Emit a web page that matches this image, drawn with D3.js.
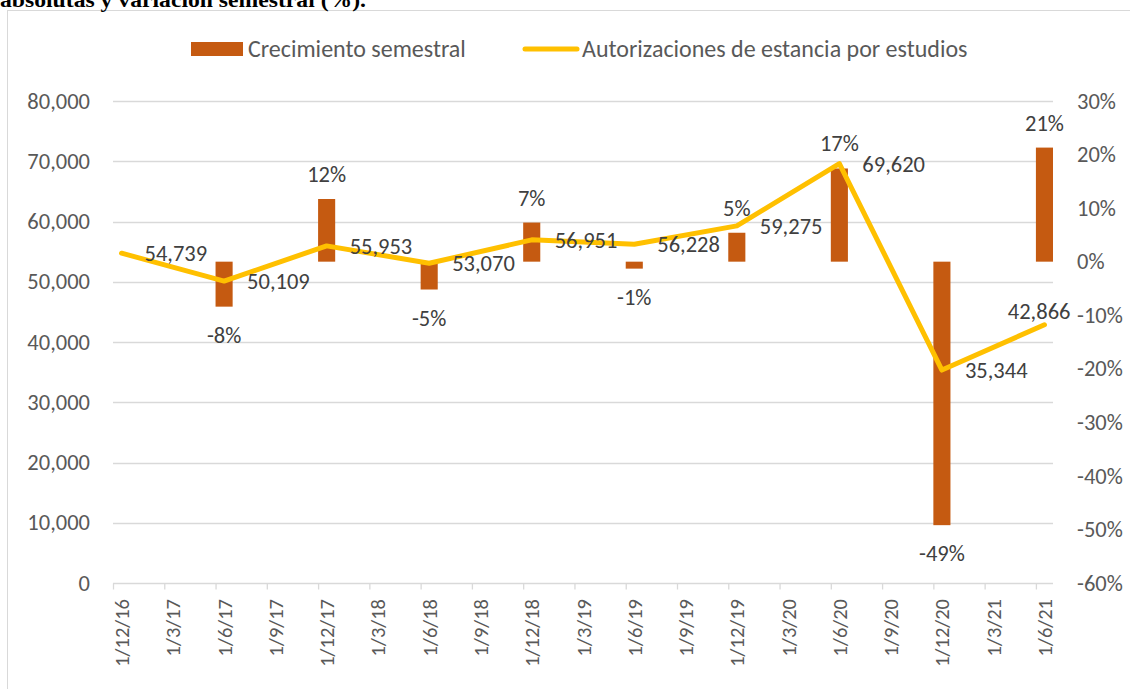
<!DOCTYPE html>
<html>
<head>
<meta charset="utf-8">
<script src="https://cdn.jsdelivr.net/npm/d3@7"></script>
<style>
  html, body { margin: 0; padding: 0; background: #fff; }
  svg { display: block; }
  text { font-family: Carlito, Lato, sans-serif; }
</style>
</head>
<body>
<svg id="chart" width="1130" height="689"></svg>
<script>
// ---- Data ----
const monthLabels = ["1/12/16","1/3/17","1/6/17","1/9/17","1/12/17","1/3/18","1/6/18","1/9/18","1/12/18","1/3/19","1/6/19","1/9/19","1/12/19","1/3/20","1/6/20","1/9/20","1/12/20","1/3/21","1/6/21"];
const pointDates = ["1/12/16","1/6/17","1/12/17","1/6/18","1/12/18","1/6/19","1/12/19","1/6/20","1/12/20","1/6/21"];
const autorizaciones = [54739, 50109, 55953, 53070, 56951, 56228, 59275, 69620, 35344, 42866];
const crecimiento = [null, -8.4, 11.7, -5.2, 7.3, -1.3, 5.4, 17.4, -49.2, 21.3];
const leftTicks = [0, 10000, 20000, 30000, 40000, 50000, 60000, 70000, 80000];
const rightTicks = [-60, -50, -40, -30, -20, -10, 0, 10, 20, 30];
const seriesNames = ["Crecimiento semestral", "Autorizaciones de estancia por estudios"];
const titleText = "absolutas y variación semestral (%).";

const colors = { bar: "#C55A11", line: "#FFC000", grid: "#d9d9d9", axisText: "#595959", label: "#404040" };
const numSize = "22.5px";

// month index since Dec 2016
function monthIndex(s) {
  const p = s.split("/");
  const m = +p[1], y = 2000 + +p[2];
  return (y - 2016) * 12 + (m - 12);
}

const svg = d3.select("#chart");
const plot = { left: 113, right: 1053, top: 101, bottom: 583 };

const x = d3.scaleLinear().domain([0, 55]).range([plot.left, plot.right]);
const yL = d3.scaleLinear().domain([0, 80000]).range([plot.bottom, plot.top]);
const yR = d3.scaleLinear().domain([-60, 30]).range([plot.bottom, plot.top]);
const monthW = x(1) - x(0);
const fmtN = d3.format(",");

// chart border
svg.append("rect").attr("x", 7.5).attr("y", 10.5).attr("width", 1130).attr("height", 700)
  .attr("fill", "none").attr("stroke", "#d9d9d9").attr("stroke-width", 1);

// title (cut off at top, as in the source)
svg.append("text").attr("x", 0).attr("y", 7)
  .style("font-family", "'Liberation Serif', 'Times New Roman', serif")
  .style("font-weight", "bold").style("font-size", "21px").attr("fill", "#000")
  .attr("textLength", 366).attr("lengthAdjust", "spacingAndGlyphs")
  .text(titleText);

// gridlines
const gridG = svg.append("g");
gridG.selectAll("line").data(leftTicks.filter(d => d > 0)).join("line")
  .attr("x1", plot.left).attr("x2", plot.right)
  .attr("y1", d => Math.round(yL(d)) + 0.5).attr("y2", d => Math.round(yL(d)) + 0.5)
  .attr("stroke", colors.grid).attr("stroke-width", 1.3);

// x axis
const xAxis = d3.axisBottom(x)
  .tickValues(monthLabels.map(monthIndex))
  .tickSize(6).tickFormat("");
const xg = svg.append("g").attr("transform", `translate(0,${plot.bottom + 0.5})`).call(xAxis);
xg.select(".domain").attr("stroke", colors.grid).attr("stroke-width", 1.3)
  .attr("d", `M${plot.left},0H${plot.right}`);
xg.selectAll(".tick line").attr("stroke", colors.grid).attr("stroke-width", 1.3);
svg.append("g").selectAll("text").data(monthLabels).join("text")
  .attr("transform", d => `translate(${x(monthIndex(d) + 0.5) + 7.5},599) rotate(-90)`)
  .attr("text-anchor", "end")
  .attr("fill", colors.axisText).style("font-size", "20.5px")
  .text(d => d);

// left axis labels
const yAxisL = d3.axisLeft(yL).tickValues(leftTicks).tickSize(0).tickPadding(0).tickFormat(fmtN);
const lg = svg.append("g").attr("transform", "translate(90,0)").call(yAxisL);
lg.select(".domain").remove();
lg.selectAll("text").attr("fill", colors.axisText).style("font-size", numSize).style("font-family", "Carlito, Lato, sans-serif");

// right axis labels
const yAxisR = d3.axisRight(yR).tickValues(rightTicks).tickSize(0).tickPadding(0).tickFormat(d => d + "%");
const rg = svg.append("g").attr("transform", "translate(1077,0)").call(yAxisR);
rg.select(".domain").remove();
rg.selectAll("text").attr("fill", colors.axisText).style("font-size", numSize).style("font-family", "Carlito, Lato, sans-serif");

// bars
const barData = pointDates.map((d, i) => ({ d, v: crecimiento[i] })).filter(o => o.v !== null);
svg.append("g").selectAll("rect").data(barData).join("rect")
  .attr("x", o => x(monthIndex(o.d) + 0.5) - monthW / 2)
  .attr("width", monthW)
  .attr("y", o => yR(Math.max(0, o.v)))
  .attr("height", o => Math.abs(yR(o.v) - yR(0)))
  .attr("fill", colors.bar);

// line
const lineData = pointDates.map((d, i) => ({ d, v: autorizaciones[i] }));
const line = d3.line().x(o => x(monthIndex(o.d) + 0.5)).y(o => yL(o.v));
svg.append("path").datum(lineData).attr("d", line)
  .attr("fill", "none").attr("stroke", colors.line).attr("stroke-width", 5)
  .attr("stroke-linejoin", "round").attr("stroke-linecap", "round");

// bar labels
svg.append("g").selectAll("text").data(barData).join("text")
  .attr("x", o => x(monthIndex(o.d) + 0.5))
  .attr("y", o => o.v >= 0 ? yR(o.v) - 17 : yR(o.v) + 36)
  .attr("text-anchor", "middle")
  .attr("fill", colors.label).style("font-size", numSize)
  .text(o => Math.round(o.v) + "%");

// line labels
const last = lineData.length - 1;
svg.append("g").selectAll("text").data(lineData).join("text")
  .attr("x", (o, i) => i === last ? x(monthIndex(o.d) + 0.5) + 26 : x(monthIndex(o.d) + 0.5) + 23)
  .attr("y", (o, i) => i === last ? yL(o.v) - 6 : yL(o.v) + 8)
  .attr("text-anchor", (o, i) => i === last ? "end" : "start")
  .attr("fill", colors.label).style("font-size", numSize)
  .text(o => fmtN(o.v));

// legend
const leg = svg.append("g");
leg.append("rect").attr("x", 191).attr("y", 42).attr("width", 52).attr("height", 14).attr("fill", colors.bar);
leg.append("text").attr("x", 248).attr("y", 57).attr("fill", colors.axisText).style("font-size", "24px").text(seriesNames[0]);
leg.append("line").attr("x1", 525).attr("x2", 577).attr("y1", 49).attr("y2", 49)
  .attr("stroke", colors.line).attr("stroke-width", 5).attr("stroke-linecap", "round");
leg.append("text").attr("x", 582).attr("y", 57).attr("fill", colors.axisText).style("font-size", "24px").text(seriesNames[1]);
</script>
</body>
</html>
